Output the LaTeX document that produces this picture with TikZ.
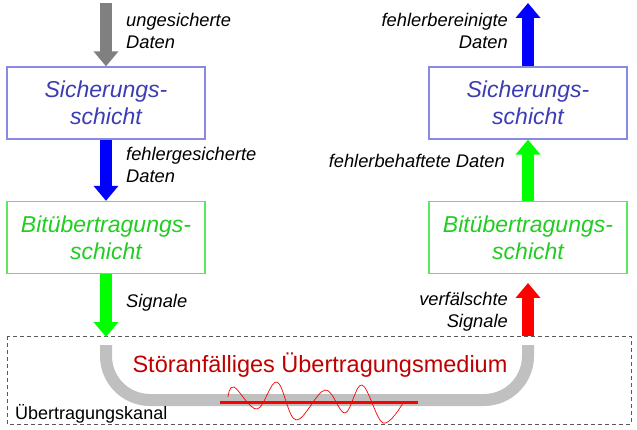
\documentclass[tikz,border=0pt]{standalone}
\usepackage{fontspec}
\setmainfont{Liberation Sans}
\usetikzlibrary{arrows.meta}
\definecolor{sichframe}{HTML}{8A8AE2}
\definecolor{sichtext}{HTML}{3C3CB4}
\definecolor{bitframe}{HTML}{5CE85C}
\definecolor{bittext}{HTML}{22CC22}
\definecolor{medtext}{HTML}{C00000}
\definecolor{pipegray}{HTML}{C0C0C0}
\definecolor{arrgray}{HTML}{808080}
\begin{document}
\begin{tikzpicture}[x=1pt,y=-1pt,
  layer/.style={draw,line width=1.3pt,minimum width=198pt,minimum height=72pt,
    inner sep=0pt,align=center,font=\fontsize{23}{27}\selectfont\itshape},
  sichlayer/.style={layer,draw=sichframe,text=sichtext},
  bitlayer/.style={layer,draw=bitframe,text=bittext},
  blockarrow/.style={line width=12pt,-{Triangle[width=24pt,length=15pt]}},
  flowlabel/.style={inner sep=0pt,font=\fontsize{18.3}{22}\selectfont\itshape}]
\useasboundingbox (0,0) rectangle (637,430);

% protocol layers, sender side and receiver side
\node[sichlayer] (sichL) at (106,103) {Sicherungs-\\schicht};
\node[bitlayer]  (bitL)  at (106,237.5) {Bitübertragungs-\\schicht};
\node[sichlayer] (sichR) at (528,103) {Sicherungs-\\schicht};
\node[bitlayer]  (bitR)  at (528,237.5) {Bitübertragungs-\\schicht};

% transmission channel
\draw[dashed,dash pattern=on 4pt off 3pt,line width=0.9pt,black!65] (7,336) rectangle (631,424);
\coordinate (chanL) at (106,337);
\coordinate (chanR) at (528,336);
\coordinate (srcL) at (106,3);
\coordinate (dstR) at (528,3);
\coordinate (redtip) at (528,283);

% medium as a U-shaped pipe
\draw[pipegray,line width=12pt,rounded corners=44pt] (106,345) -- (106,400) -- (528,400) -- (528,345);
\node[text=medtext,font=\fontsize{23.5}{27}\selectfont] (medium) at (320,365) {Störanfälliges Übertragungsmedium};
\node[anchor=base west,inner sep=0pt,font=\fontsize{18}{22}\selectfont] (kanal) at (15,419) {Übertragungskanal};

% disturbance on the medium
\draw[red,line width=3pt] (220,402) -- (418,402);
\draw[red,line width=0.7pt] plot[smooth,tension=0.6] coordinates
  {(228,397) (234,387) (257,409) (277,382) (296,420) (325,390) (345,413) (362,385) (383,423) (403,403)};

% data flow
\draw[blockarrow,arrgray] (srcL) -- (sichL.north);
\draw[blockarrow,blue] (sichL.south) -- (bitL.north);
\draw[blockarrow,green] (bitL.south) -- (chanL);
\draw[blockarrow,red] (chanR) -- (redtip);
\draw[blockarrow,green] (bitR.north) -- (sichR.south);
\draw[blockarrow,blue] (sichR.north) -- (dstR);

% flow labels (base anchor sits on the last line)
\node[flowlabel,anchor=base west,align=left] (l1) at (126,49) {ungesicherte\\Daten};
\node[flowlabel,anchor=base west,align=left] (l2) at (126,183) {fehlergesicherte\\Daten};
\node[flowlabel,anchor=base west,align=left] (l3) at (126,307) {Signale};
\node[flowlabel,anchor=base east,align=right] (r1) at (508,49) {fehlerbereinigte\\Daten};
\node[flowlabel,anchor=base east,align=right] (r2) at (505,168) {fehlerbehaftete Daten};
\node[flowlabel,anchor=base east,align=right] (r3) at (508,327) {verfälschte\\Signale};
\end{tikzpicture}
\end{document}
